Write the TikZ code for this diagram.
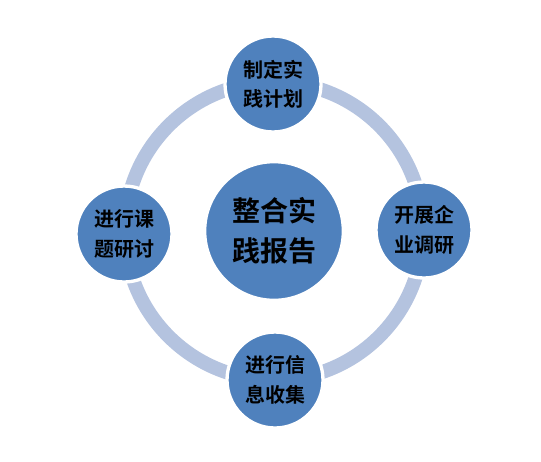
\documentclass[tikz,border=0pt]{standalone}
\usepackage{fontspec}
\newfontfamily\cjk{Noto Sans CJK SC}[BoldFont={Noto Sans CJK SC Bold}]
\usepackage{tikz}
\definecolor{ring}{HTML}{B4C3DF}
\definecolor{disc}{HTML}{4F81BD}
\definecolor{ink}{HTML}{000000}

\begin{document}
\begin{tikzpicture}[x=0.75pt,y=-0.75pt,
    step disc/.style={circle, fill=disc, draw=white, line width=2.5pt,
      minimum size=72pt, inner sep=0pt, align=center, text=ink,
      font=\cjk\bfseries\fontsize{15}{22}\selectfont},
    main disc/.style={step disc, minimum size=104pt,
      font=\cjk\bfseries\fontsize{21}{30}\selectfont}]
        \useasboundingbox (0,0) rectangle (541,461);
        \draw[ring, line width=10.5pt] (274,231) circle (149);
        \node[main disc] (report) at (274,231) {整合实\\践报告};
        \node[step disc] (plan) at (273,84) {制定实\\践计划};
        \node[step disc] (survey) at (424,230) {开展企\\业调研};
        \node[step disc] (collect) at (275,380) {进行信\\息收集};
        \node[step disc] (discuss) at (124,234) {进行课\\题研讨};
      \end{tikzpicture}
\end{document}
